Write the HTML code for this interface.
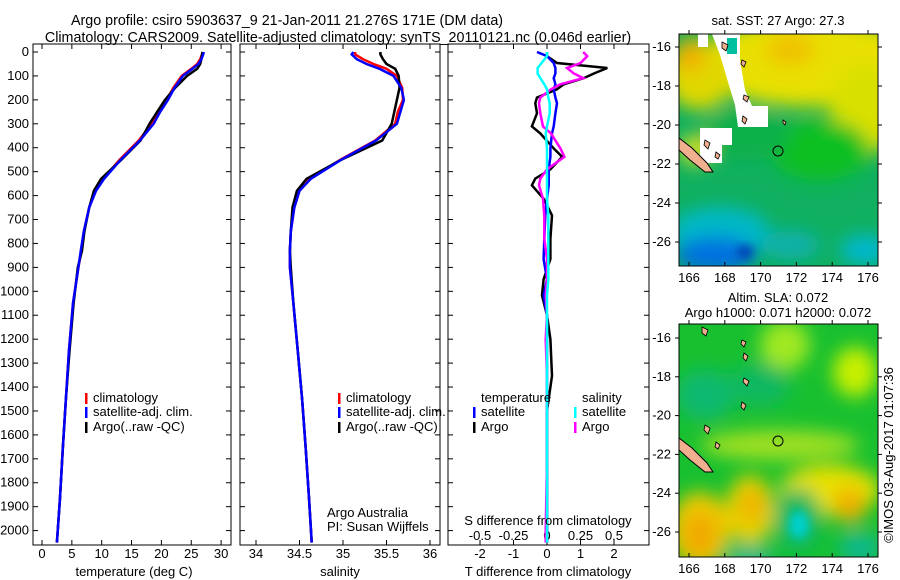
<!DOCTYPE html>
<html><head><meta charset="utf-8"><style>
body{margin:0;background:#fff;}
svg{display:block;font-family:"Liberation Sans",sans-serif;}
text{font-size:13px;fill:#000;}
.ttl{font-size:14.3px;}
</style></head><body>
<svg id="fig" width="900" height="580" viewBox="0 0 900 580">
<defs>
<clipPath id="cp1"><rect x="33" y="44" width="198" height="501"/></clipPath>
<clipPath id="cp2"><rect x="240" y="44" width="200" height="501"/></clipPath>
<clipPath id="cp3"><rect x="448" y="44" width="201" height="501"/></clipPath>
<clipPath id="cm1"><rect x="679" y="34" width="199" height="232"/></clipPath>
<clipPath id="cm2"><rect x="679" y="324" width="199" height="233"/></clipPath>
<filter id="blur" x="-50%" y="-50%" width="200%" height="200%"><feGaussianBlur stdDeviation="9"/></filter>
<filter id="blur2" x="-50%" y="-50%" width="200%" height="200%"><feGaussianBlur stdDeviation="5"/></filter>
</defs>
<text class="ttl" x="287" y="25" text-anchor="middle">Argo profile: csiro 5903637_9 21-Jan-2011 21.276S 171E (DM data)</text>
<text class="ttl" x="338" y="42" text-anchor="middle">Climatology: CARS2009. Satellite-adjusted climatology: synTS_20110121.nc (0.046d earlier)</text>

<g id="p1"></g>
<g id="p2"></g>
<g id="p3"></g>

<!-- Map 1: SST -->
<g>
<text x="778" y="25" text-anchor="middle">sat. SST: 27 Argo: 27.3</text>
<g clip-path="url(#cm1)">
<rect x="679" y="34" width="199" height="232" fill="#10b060"/>
<g filter="url(#blur)">
<ellipse cx="810" cy="62" rx="110" ry="45" fill="#e8e000"/>
<ellipse cx="865" cy="110" rx="35" ry="45" fill="#d8e000"/>
<ellipse cx="700" cy="75" rx="35" ry="35" fill="#e0d800"/>
<ellipse cx="690" cy="55" rx="15" ry="18" fill="#f0b000"/>
<ellipse cx="790" cy="50" rx="25" ry="15" fill="#f0c000"/>
<ellipse cx="820" cy="150" rx="50" ry="30" fill="#10c020"/>
<ellipse cx="745" cy="135" rx="45" ry="25" fill="#10b048"/>
<ellipse cx="695" cy="150" rx="16" ry="15" fill="#d0e020"/>
<ellipse cx="720" cy="232" rx="50" ry="25" fill="#00b8c8"/>
<ellipse cx="715" cy="255" rx="40" ry="18" fill="#0070e0"/>
<ellipse cx="865" cy="250" rx="25" ry="15" fill="#00b8d0"/>
<ellipse cx="790" cy="245" rx="30" ry="14" fill="#10b0b0"/>
</g>
<ellipse cx="745" cy="252" rx="8" ry="6" fill="#0030b0" filter="url(#blur2)"/>
<polygon points="712,34 740,34 740,60 745,90 752,106 768,106 768,127 738,127 735,105 728,82 720,55" fill="#fff"/>
<polygon points="698,34 708,34 708,47 698,47" fill="#fff"/>
<polygon points="700,128 732,128 732,145 722,145 722,163 700,163" fill="#fff"/>
<rect x="727" y="38" width="10" height="16" fill="#00c0a0"/>
<path d="M679,138 L692,148 L707,163 L713,172 L705,172 L690,160 L679,150Z" fill="#f0b090" stroke="#000"/>
<path d="M722,42 l6,3 l-2,6 l-4,-3Z M742,60 l4,2 l-2,5 l-3,-3Z M744,95 l5,2 l-2,5 l-4,-3Z M743,116 l4,3 l-2,5 l-3,-3Z M705,140 l5,3 l-2,6 l-4,-4Z M716,152 l4,3 l-2,4 l-3,-2Z M783,120 l3,2 l-1,3 l-2,-2Z" fill="#f0b090" stroke="#000" stroke-width="0.8"/>
<circle cx="778" cy="151" r="5" fill="none" stroke="#000"/>
</g>
<rect x="679" y="34" width="199" height="232" fill="none" stroke="#000"/>
</g>

<!-- Map 2: SLA -->
<g>
<text x="778" y="302" text-anchor="middle">Altim. SLA: 0.072</text>
<text x="778" y="317" text-anchor="middle">Argo h1000: 0.071 h2000: 0.072</text>
<g clip-path="url(#cm2)">
<rect x="679" y="324" width="199" height="233" fill="#18c030"/>
<g filter="url(#blur)">
<ellipse cx="785" cy="345" rx="25" ry="25" fill="#a0e820"/>
<ellipse cx="855" cy="372" rx="22" ry="25" fill="#c8f000"/>
<ellipse cx="705" cy="395" rx="30" ry="25" fill="#10b870"/>
<ellipse cx="760" cy="385" rx="30" ry="22" fill="#10b860"/>
<ellipse cx="780" cy="445" rx="80" ry="15" fill="#a0e020"/>
<ellipse cx="830" cy="490" rx="50" ry="25" fill="#e8e000"/>
<ellipse cx="750" cy="510" rx="24" ry="35" fill="#e8d000"/>
<ellipse cx="700" cy="530" rx="30" ry="38" fill="#f0c800"/>
<ellipse cx="850" cy="505" rx="16" ry="18" fill="#f0b000"/>
<ellipse cx="700" cy="535" rx="16" ry="22" fill="#f0a800"/>
<ellipse cx="752" cy="505" rx="12" ry="16" fill="#f0b000"/>
<ellipse cx="798" cy="520" rx="24" ry="32" fill="#10b860"/>
<ellipse cx="860" cy="548" rx="22" ry="15" fill="#10b890"/>
<ellipse cx="750" cy="557" rx="25" ry="10" fill="#10b890"/>
</g>
<ellipse cx="799" cy="525" rx="10" ry="14" fill="#00d0d0" filter="url(#blur2)"/>
<path d="M679,438 L692,448 L707,463 L713,472 L705,472 L690,460 L679,450Z" fill="#f0b090" stroke="#000"/>
<path d="M702,327 l6,3 l-2,6 l-4,-3Z M742,340 l4,2 l-2,5 l-3,-3Z M744,378 l5,3 l-2,5 l-4,-4Z M742,402 l4,3 l-2,5 l-3,-3Z M705,425 l5,3 l-2,6 l-4,-4Z M716,442 l4,3 l-2,4 l-3,-2Z M744,353 l4,3 l-2,5 l-3,-3Z" fill="#f0b090" stroke="#000" stroke-width="0.8"/>
<circle cx="778" cy="441" r="5" fill="none" stroke="#000"/>
</g>
<rect x="679" y="324" width="199" height="233" fill="none" stroke="#000"/>
</g>
<text transform="translate(893,455) rotate(-90)" text-anchor="middle">©IMOS 03-Aug-2017 01:07:36</text>
<g id="maxes"></g>
</svg>
<script>
// ---- data ----
const depths = [0,10,30,50,70,100,150,200,250,300,370,450,530,580,650,750,830,900,1050,1250,1450,1650,1870,2050];
const tempClim = [26.9,26.8,26.5,26,25,23.4,22,20.9,19.6,18.4,16.2,13,10.3,9,7.9,7,6.6,6.1,5.2,4.5,4,3.5,3,2.5];
const tempSat  = [27.1,27.0,26.7,26.2,25.2,23.6,22.2,21.1,19.8,18.7,16.4,13.2,10.4,9.05,7.9,7.0,6.5,6.1,5.2,4.5,4,3.5,3,2.5];
const tempArgo = [26.9,26.8,26.7,26.5,26,24.3,22.3,20.6,19.3,18,16.5,13.3,9.9,8.7,7.9,7.1,6.7,6.0,5.3,4.6,4.0,3.5,3.0,2.5];
const salClim = [35.14,35.14,35.23,35.35,35.5,35.62,35.68,35.69,35.63,35.6,35.37,34.97,34.62,34.5,34.44,34.4,34.39,34.39,34.43,34.48,34.53,34.57,34.61,34.64];
const salSat  = [35.12,35.1,35.16,35.27,35.42,35.58,35.67,35.7,35.66,35.62,35.38,34.98,34.63,34.5,34.44,34.4,34.39,34.39,34.43,34.48,34.53,34.57,34.61,34.64];
const salArgo = [35.43,35.43,35.46,35.5,35.6,35.64,35.65,35.62,35.59,35.56,35.45,34.98,34.58,34.47,34.42,34.40,34.39,34.4,34.43,34.48,34.53,34.57,34.61,34.64];
const diffDepths = [0,17,46,67,90,109,135,156,190,214,256,311,340,403,438,490,529,557,613,683,780,865,950,1017,1100,1200,1353,1500,1700,2000,2050];
const tDiffArgo = [0,0,0.3,1.8,1.4,1.1,0.5,0.3,-0.3,-0.35,-0.3,-0.45,-0.2,0.2,0.45,0.1,-0.35,-0.45,-0.1,0.15,0.1,0.1,-0.1,-0.15,0,0.1,0.15,0,0,0,0];
const tDiffSat  = [-0.3,0,0.2,0.25,0.25,0.2,0.25,0.2,0.25,0.3,0.25,0.2,0.15,0.1,0.1,0.05,0.05,0.05,0,-0.05,-0.08,-0.1,0,-0.1,0,0,0,0,0,0,0];
const sDiffSat  = [0,0,-0.04,-0.07,-0.07,-0.05,-0.02,0,0.01,0.02,0.02,0,-0.01,0,0,0,0,0,0,0.01,0.01,0.01,0.01,0,0,0,0,0,0,0,0];
const sDiffArgo = [0.27,0.3,0.25,0.15,0.2,0.27,0.1,0.03,-0.05,-0.06,-0.05,-0.03,0.03,0.1,0.13,0,-0.05,-0.06,-0.03,-0.02,-0.02,0,0,-0.01,0,-0.01,0,0,0,-0.01,-0.01];
const depthTicks = [0,100,200,300,400,500,600,700,800,900,1000,1100,1200,1300,1400,1500,1600,1700,1800,1900,2000];
const tempTicks = [0,5,10,15,20,25,30];
const salTicks = [34,34.5,35,35.5,36];
const tDiffTicks = [-2,-1,0,1,2];
const sDiffTicks = [-0.5,-0.25,0,0.25,0.5];
const lonTicks = [166,168,170,172,174,176];
const latTicks = [-16,-18,-20,-22,-24,-26];

// ---- scales ----
const NS='http://www.w3.org/2000/svg';
const yD = d => 52 + d*0.2393;
const xT = t => 42 + t*5.97;
const xS = s => 256 + (s-34)*87;
const xTd = v => 547 + v*33.5;
const xSd = v => 547 + v*134;
const xLon = l => 689 + (l-166)*17.9;
const yLat1 = l => 47 + (-16-l)*19.5;
const yLat2 = l => 338 + (-16-l)*19.4;

function mk(tag, attrs, parent){const e=document.createElementNS(NS,tag);for(const k in attrs)e.setAttribute(k,attrs[k]);parent.appendChild(e);return e;}
function txt(parent,x,y,s,anchor){const t=mk('text',{x:x,y:y,'text-anchor':anchor||'middle'},parent);t.textContent=s;return t;}

function line(parent, xs, ys, xf, color, clip, name){
  const pts = xs.map((v,i)=>xf(v).toFixed(1)+','+yD(ys[i]).toFixed(1)).join(' ');
  const p = mk('polyline',{points:pts,fill:'none',stroke:color,'stroke-width':2.5,'clip-path':'url(#'+clip+')'},parent);
  
  
}

function box(parent,x0,x1,name){
  const r = mk('rect',{x:x0,y:44,width:x1-x0,height:501,fill:'none',stroke:'#000'},parent);
  
  
}

function xTicks(parent, ticks, f, ylab){
  ticks.forEach(t=>{const x=f(t);
    mk('line',{x1:x,x2:x,y1:545,y2:540,stroke:'#000'},parent);
    mk('line',{x1:x,x2:x,y1:44,y2:49,stroke:'#000'},parent);
    if(ylab){const e=txt(parent,x,ylab,String(t));
      
      }
  });
}
function yTicks(parent,x0,x1,labels){
  depthTicks.forEach(d=>{const y=yD(d);
    mk('line',{x1:x0,x2:x0+5,y1:y,y2:y,stroke:'#000'},parent);
    mk('line',{x1:x1-5,x2:x1,y1:y,y2:y,stroke:'#000'},parent);
    if(labels){const e=txt(parent,29,y+4,String(d),'end');
      
      }
  });
}
function legendEntry(parent,x,y,color,label){
  const g = mk('g',{},parent);
  
  
  mk('rect',{x:x,y:y-9,width:2.5,height:11,fill:color},g);
  txt(g,x+8,y,label,'start');
}

// Panel 1
const p1=document.getElementById('p1');
box(p1,33,231,'temperature-plot-area');
yTicks(p1,33,231,true);
xTicks(p1,tempTicks,xT,558);
line(p1,tempClim,depths,xT,'#f00','cp1','temp-climatology-line');
line(p1,tempArgo,depths,xT,'#000','cp1','temp-argo-line');
line(p1,tempSat,depths,xT,'#00f','cp1','temp-satellite-line');
txt(p1,134,576,'temperature (deg C)');
legendEntry(p1,85,402,'#f00','climatology');
legendEntry(p1,85,416,'#00f','satellite-adj. clim.');
legendEntry(p1,85,431,'#000','Argo(..raw -QC)');

// Panel 2
const p2=document.getElementById('p2');
box(p2,240,440,'salinity-plot-area');
yTicks(p2,240,440,false);
xTicks(p2,salTicks,xS,558);
line(p2,salClim,depths,xS,'#f00','cp2','sal-climatology-line');
line(p2,salArgo,depths,xS,'#000','cp2','sal-argo-line');
line(p2,salSat,depths,xS,'#00f','cp2','sal-satellite-line');
txt(p2,340,576,'salinity');
legendEntry(p2,338,402,'#f00','climatology');
legendEntry(p2,338,416,'#00f','satellite-adj. clim.');
legendEntry(p2,338,431,'#000','Argo(..raw -QC)');
txt(p2,327,517,'Argo Australia','start');
txt(p2,327,531,'PI: Susan Wijffels','start');

// Panel 3
const p3=document.getElementById('p3');
box(p3,448,649,'difference-plot-area');
yTicks(p3,448,649,false);
xTicks(p3,tDiffTicks,xTd,558);
sDiffTicks.forEach(v=>{const e=txt(p3,xSd(v),540,String(v));
  
  });
line(p3,tDiffArgo,diffDepths,xTd,'#000','cp3','t-diff-argo-line');
line(p3,tDiffSat,diffDepths,xTd,'#00f','cp3','t-diff-satellite-line');
line(p3,sDiffArgo,diffDepths,xSd,'#f0f','cp3','s-diff-argo-line');
line(p3,sDiffSat,diffDepths,xSd,'#0ff','cp3','s-diff-satellite-line');
txt(p3,548,576,'T difference from climatology');
txt(p3,548,525,'S difference from climatology');
txt(p3,481,402,'temperature','start');
txt(p3,582,402,'salinity','start');
legendEntry(p3,473,416,'#00f','satellite');
legendEntry(p3,473,431,'#000','Argo');
legendEntry(p3,574,416,'#0ff','satellite');
legendEntry(p3,574,431,'#f0f','Argo');

// Map axes
const ma=document.getElementById('maxes');
function mapAxes(y0,y1,yl){
  lonTicks.forEach(l=>{const x=xLon(l);
    mk('line',{x1:x,x2:x,y1:y1,y2:y1-4,stroke:'#000'},ma);
    mk('line',{x1:x,x2:x,y1:y0,y2:y0-4,stroke:'#000'},ma);
    const e=txt(ma,x,y1+16,String(l));
    
    });
  latTicks.forEach(l=>{const y=yl(l);
    mk('line',{x1:679,x2:675,y1:y,y2:y,stroke:'#000'},ma);
    mk('line',{x1:878,x2:882,y1:y,y2:y,stroke:'#000'},ma);
    const e=txt(ma,671,y+4,String(l),'end');
    
    });
}
mapAxes(34,266,yLat1);
mapAxes(324,557,yLat2);
</script>
</body></html>
